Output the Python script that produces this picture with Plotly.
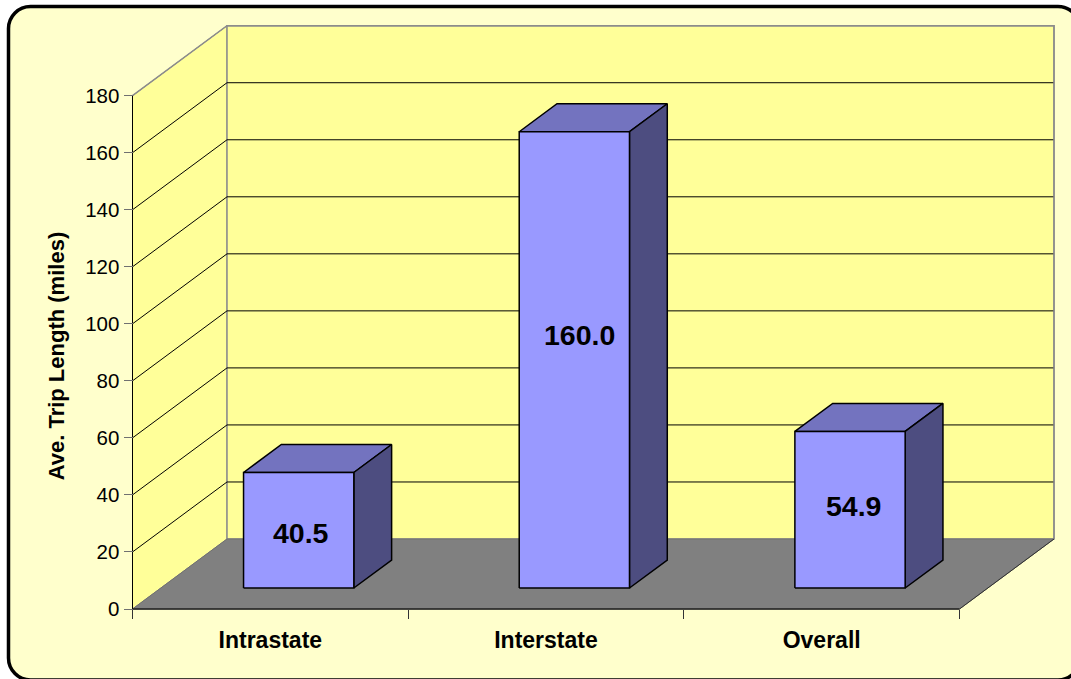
import plotly.graph_objects as go

# Chart content
CATEGORIES = ["Intrastate", "Interstate", "Overall"]
TRIP_LENGTHS = [40.5, 160.0, 54.9]
VALUE_LABELS = ["40.5", "160.0", "54.9"]
Y_TICKS = [0, 20, 40, 60, 80, 100, 120, 140, 160, 180]
AXIS_TITLE = "Ave. Trip Length (miles)"

# Page and plot geometry, in pixels
W, H = 1071, 679
LEFT_PX, RIGHT_PX = 132.5, 959.5
ZERO_PX, TOP_PX = 609.0, 95.7
DEPTH_DX_PX, DEPTH_DY_PX = 94.5, 70.0

PX_PER_CAT = (RIGHT_PX - LEFT_PX) / len(CATEGORIES)
PX_PER_VAL = (ZERO_PX - TOP_PX) / max(Y_TICKS)
NCAT = len(CATEGORIES)
YMAX = max(Y_TICKS)

# One unit of depth, expressed in axis units (oblique projection)
DX = DEPTH_DX_PX / PX_PER_CAT
DY = DEPTH_DY_PX / PX_PER_VAL

BAR_WIDTH = 0.4
BAR_DEPTH_START = 0.3
BAR_DEPTH = 0.4

PANEL = "#FFFFCC"
WALL = "#FFFF99"
FLOOR = "#808080"
EDGE_GRAY = "#8C8C8C"
BAR_FRONT = "#9999FF"
BAR_TOP = "#7373BF"
BAR_SIDE = "#4D4D80"
FONT = "Liberation Sans"


def project(x, y, depth=0.0):
    return x + depth * DX, y + depth * DY


def poly(points, fill=None, line="black", width=1.0):
    """Add a projected polygon or polyline; points are (x, value, depth)."""
    xs, ys = zip(*[project(*p) for p in points])
    kw = dict(fill="toself", fillcolor=fill) if fill else {}
    if fill:
        xs, ys = xs + xs[:1], ys + ys[:1]
    fig.add_trace(go.Scatter(
        x=list(xs), y=list(ys), mode="lines",
        line=dict(color=line, width=width),
        hoverinfo="skip", showlegend=False, **kw))


fig = go.Figure()

# Walls and floor
poly([(0, 0, 0), (0, YMAX, 0), (0, YMAX, 1), (0, 0, 1)], WALL, EDGE_GRAY, 1)
poly([(0, 0, 1), (0, YMAX, 1), (NCAT, YMAX, 1), (NCAT, 0, 1)], WALL, EDGE_GRAY, 1.5)
poly([(0, 0, 0), (0, 0, 1), (NCAT, 0, 1), (NCAT, 0, 0)], FLOOR, "#707070", 1)

# Gridlines run along the side wall and across the back wall
for v in Y_TICKS[1:-1]:
    poly([(0, v, 0), (0, v, 1), (NCAT, v, 1)], None, "black", 1)

# Top edge of the walls and their vertical edges
poly([(0, YMAX, 0), (0, YMAX, 1), (NCAT, YMAX, 1), (NCAT, 0, 1)], None, EDGE_GRAY, 1.5)
poly([(NCAT, 0, 1), (NCAT, 0, 0)], None, "#303030", 1)
poly([(0, 0, 0), (0, YMAX, 0)], None, "black", 1)
poly([(0, 0, 0), (NCAT, 0, 0)], None, "#202020", 1.5)

# Bars: front, top and side faces
z0, z1 = BAR_DEPTH_START, BAR_DEPTH_START + BAR_DEPTH
for i, val in enumerate(TRIP_LENGTHS):
    a = i + 0.5 - BAR_WIDTH / 2
    b = i + 0.5 + BAR_WIDTH / 2
    poly([(a, val, z0), (a, val, z1), (b, val, z1), (b, val, z0)], BAR_TOP, "black", 1.5)
    poly([(b, 0, z0), (b, val, z0), (b, val, z1), (b, 0, z1)], BAR_SIDE, "black", 1.5)
    poly([(a, 0, z0), (a, val, z0), (b, val, z0), (b, 0, z0)], BAR_FRONT, "black", 1.5)

# Value labels sit on the front face; small offsets in pixels per bar
LABEL_NUDGE = [(2, -3), (5, 25), (3, 4)]
annotations = []
for i, (val, text) in enumerate(zip(TRIP_LENGTHS, VALUE_LABELS)):
    x, y = project(i + 0.5, val / 2, z0)
    annotations.append(dict(
        x=x, y=y, text=f"<b>{text}</b>", showarrow=False,
        xshift=LABEL_NUDGE[i][0], yshift=LABEL_NUDGE[i][1],
        font=dict(family=FONT, size=28.5, color="black")))

# Rotated value-axis title
annotations.append(dict(
    x=(56 - LEFT_PX) / PX_PER_CAT, y=YMAX / 2, yshift=-4,
    text=f"<b>{AXIS_TITLE}</b>", textangle=-90, showarrow=False,
    font=dict(family=FONT, size=22, color="black")))


def rounded_panel(x0, y0, x1, y1, r):
    """SVG path of a rounded rectangle, given in pixels from the top left."""
    px = lambda v: v / W
    py = lambda v: 1 - v / H
    k = r * 0.45
    seg = [
        f"M{px(x0 + r)},{py(y0)}", f"L{px(x1 - r)},{py(y0)}",
        f"C{px(x1 - k)},{py(y0)} {px(x1)},{py(y0 + k)} {px(x1)},{py(y0 + r)}",
        f"L{px(x1)},{py(y1 - r)}",
        f"C{px(x1)},{py(y1 - k)} {px(x1 - k)},{py(y1)} {px(x1 - r)},{py(y1)}",
        f"L{px(x0 + r)},{py(y1)}",
        f"C{px(x0 + k)},{py(y1)} {px(x0)},{py(y1 - k)} {px(x0)},{py(y1 - r)}",
        f"L{px(x0)},{py(y0 + r)}",
        f"C{px(x0)},{py(y0 + k)} {px(x0 + k)},{py(y0)} {px(x0 + r)},{py(y0)} Z",
    ]
    return " ".join(seg)


fig.update_layout(
    width=W, height=H, autosize=False,
    margin=dict(l=0, r=0, t=0, b=0),
    paper_bgcolor="white", plot_bgcolor="rgba(0,0,0,0)",
    showlegend=False,
    annotations=annotations,
    shapes=[dict(
        type="path", xref="paper", yref="paper", layer="below",
        path=rounded_panel(8.5, 6.5, 1080, 680, 22),
        fillcolor=PANEL, line=dict(color="black", width=3.5))],
    xaxis=dict(
        range=[-LEFT_PX / PX_PER_CAT, (W - LEFT_PX) / PX_PER_CAT],
        anchor="free", position=(H - ZERO_PX) / H,
        showgrid=False, zeroline=False, showline=False,
        tickmode="array",
        tickvals=[i + 0.5 for i in range(NCAT)], ticktext=CATEGORIES,
        ticks="", ticklabelstandoff=15,
        tickfont=dict(family=FONT, size=23, color="black", weight="bold"),
        minor=dict(tickmode="array", tickvals=list(range(NCAT + 1)),
                   ticks="outside", ticklen=9, tickcolor="#333333", tickwidth=1),
    ),
    yaxis=dict(
        range=[(ZERO_PX - H) / PX_PER_VAL, ZERO_PX / PX_PER_VAL],
        anchor="free", position=LEFT_PX / W,
        showgrid=False, zeroline=False, showline=False,
        tickmode="array", tickvals=Y_TICKS,
        ticks="outside", ticklen=9, tickcolor="#707070", tickwidth=1,
        tickfont=dict(family=FONT, size=20.5, color="black"),
    ),
)

fig.write_html("out.html", config={"displayModeBar": False})
